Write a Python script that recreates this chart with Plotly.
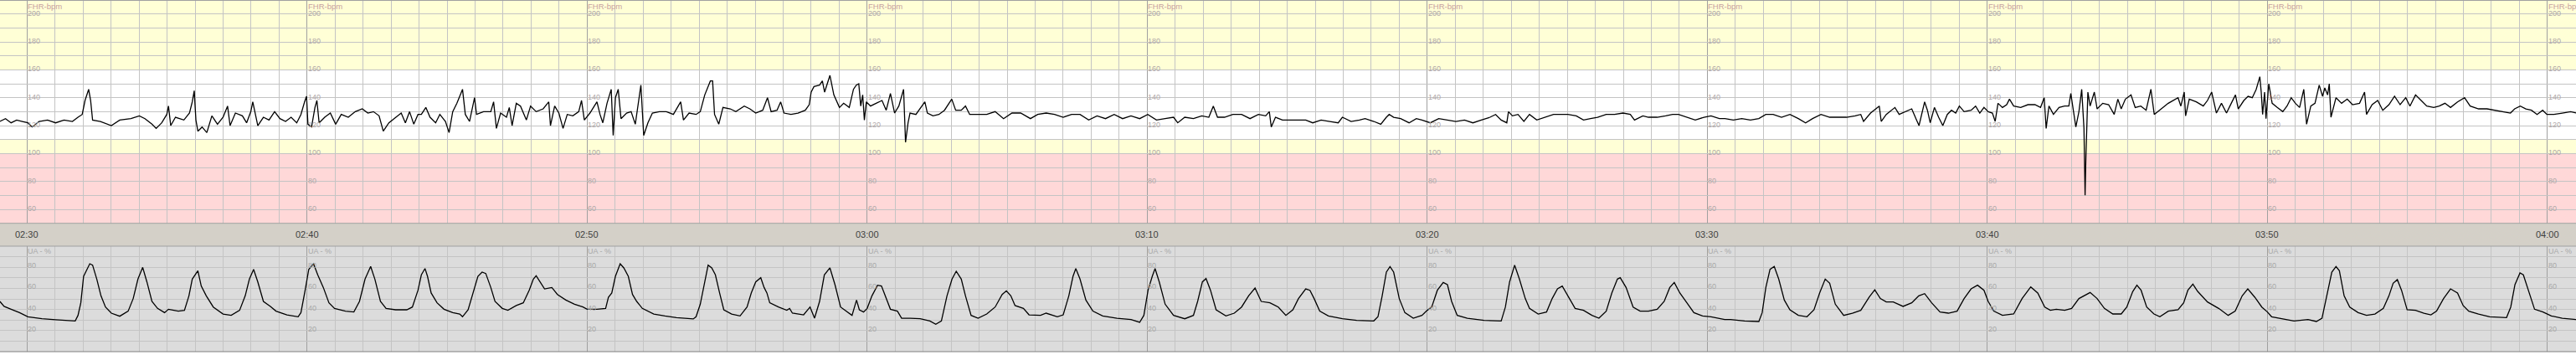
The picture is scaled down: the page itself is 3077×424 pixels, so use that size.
import plotly.graph_objects as go

# ---------------- data (minutes after 02:30, value) ----------------
fhr_seg1 = [(-0.97,123),(-0.77,125),(-0.57,122),(-0.37,124),(-0.17,123),(0.03,122),(0.18,119),(0.43,123),(0.73,124),(1.02,122),(1.32,124),(1.62,123),(1.82,126),(1.97,128),(2.07,138),(2.20,146),(2.27,138),(2.34,124),(2.62,123),(3.01,120),(3.31,124),(3.71,125),(4.01,127),(4.21,125),(4.46,121),(4.61,118),(4.81,122),(4.99,128),(5.05,134),(5.13,120),(5.30,126),(5.60,124),(5.80,129),(5.90,137),(5.97,145),(6.03,124),(6.10,116),(6.25,119),(6.42,115),(6.60,127),(6.80,121),(7.00,126),(7.16,134),(7.25,120),(7.44,129),(7.69,127),(7.84,122),(7.99,130),(8.06,137),(8.14,129),(8.24,120),(8.44,126),(8.64,124),(8.84,130),(9.03,125),(9.23,123),(9.43,126),(9.63,122),(9.78,128),(9.91,137),(9.98,141),(10.03,121),(10.16,119),(10.28,133),(10.35,138),(10.43,122),(10.63,126),(10.83,129),(11.02,121),(11.22,128),(11.47,126),(11.72,130),(11.97,132),(12.17,129),(12.37,130),(12.57,127),(12.72,116),(12.92,122),(13.16,126),(13.36,129),(13.51,122),(13.66,130),(13.81,121),(13.96,128)]
fhr_seg2 = [(14.08,128),(14.24,133),(14.39,126),(14.59,122),(14.74,128),(14.94,123),(15.07,115),(15.20,130),(15.35,136),(15.55,146),(15.65,128),(15.80,123),(15.98,140),(16.05,128),(16.30,130),(16.56,130),(16.66,137),(16.76,118),(16.91,129),(17.12,126),(17.22,133),(17.32,120),(17.47,136),(17.62,134),(17.83,124),(17.98,134),(18.18,130),(18.43,132),(18.63,137),(18.69,120),(18.84,134),(18.99,129),(19.14,118),(19.29,128),(19.49,127),(19.70,130),(19.80,138),(19.90,124),(20.10,129),(20.25,134),(20.35,137),(20.46,128),(20.56,122),(20.71,136),(20.86,146),(20.93,113),(21.01,140),(21.11,146),(21.21,125),(21.41,129),(21.57,130),(21.72,121),(21.92,149),(22.02,113),(22.17,122),(22.33,129),(22.58,130),(22.83,130),(23.08,128),(23.34,137),(23.44,124),(23.64,129),(23.89,128),(24.04,130),(24.20,142),(24.40,152),(24.48,152),(24.55,128),(24.70,121),(24.85,133),(25.11,132),(25.31,130),(25.61,134),(25.81,132),(26.02,129),(26.27,131),(26.44,140),(26.57,130),(26.78,131),(26.91,137),(27.03,129),(27.28,128),(27.53,129),(27.79,131),(27.93,135),(28.00,144),(28.10,148),(28.30,149),(28.40,152),(28.48,144),(28.58,150),(28.67,156),(28.81,142),(29.01,133),(29.16,136),(29.36,133)]
fhr_seg3 = [(29.51,146),(29.61,149),(29.70,150),(29.77,134),(29.84,142),(29.90,124),(29.97,137),(30.12,134),(30.32,136),(30.53,138),(30.68,131),(30.83,143),(30.98,129),(31.13,134),(31.30,146),(31.37,108),(31.46,122),(31.53,129),(31.74,128),(31.94,134),(32.06,137),(32.15,129),(32.35,127),(32.56,128),(32.76,131),(33.02,139),(33.16,131),(33.36,131),(33.51,134),(33.66,128),(33.96,128),(34.27,128),(34.57,130),(34.87,125),(35.17,129),(35.48,129),(35.83,125),(36.09,128),(36.39,129),(36.69,128),(37.00,126),(37.30,128),(37.60,128),(37.91,124),(38.21,127),(38.51,125),(38.82,128),(39.12,125),(39.42,127),(39.73,125),(40.02,128),(40.33,124),(40.64,125),(40.94,126),(41.09,122),(41.34,126),(41.65,125),(41.95,127),(42.20,126),(42.36,134),(42.51,126),(42.76,126),(43.06,128),(43.37,128),(43.67,125),(43.97,128),(44.23,127),(44.36,130),(44.43,119),(44.58,126),(44.83,124)]
fhr_seg4 = [(45.06,124),(45.35,124),(45.66,124),(45.91,122),(46.21,124),(46.52,123),(46.82,122),(46.97,126),(47.28,123),(47.58,124),(47.78,125),(48.09,123),(48.34,121),(48.54,126),(48.64,128),(48.80,126),(49.05,125),(49.35,122),(49.61,125),(49.81,124),(50.11,122),(50.41,125),(50.72,124),(51.02,123),(51.33,124),(51.63,122),(51.93,124),(52.24,126),(52.44,128),(52.64,124),(52.84,122),(52.90,130),(53.04,127),(53.24,128),(53.45,123),(53.65,128),(53.91,124),(54.21,126),(54.51,128),(54.77,128),(55.02,128),(55.32,127),(55.58,124),(55.83,125),(56.08,126),(56.39,128),(56.69,128),(56.99,129),(57.25,128),(57.40,124),(57.70,127),(57.90,126),(58.21,126),(58.51,127),(58.76,128),(58.97,128),(59.27,126),(59.57,124),(59.88,126),(60.13,127),(60.43,125)]
fhr_seg5 = [(60.63,125),(60.93,124),(61.23,125),(61.54,124),(61.84,125),(62.09,128),(62.35,128),(62.65,126),(62.95,128),(63.25,125),(63.51,122),(63.76,125),(64.06,128),(64.37,126),(64.67,126),(64.97,126),(65.28,127),(65.48,128),(65.58,123),(65.83,129),(66.14,134),(66.21,123),(66.39,128),(66.70,133),(66.85,128),(67.05,130),(67.30,132),(67.45,125),(67.56,120),(67.76,137),(67.86,131),(67.96,122),(68.11,133),(68.26,126),(68.41,120),(68.57,128),(68.72,131),(68.87,129),(69.00,134),(69.17,130),(69.42,131),(69.58,134),(69.73,129),(69.88,133),(70.03,130),(70.18,129),(70.28,123),(70.38,136),(70.54,133),(70.69,135),(70.79,139),(70.94,134),(71.19,133),(71.45,135),(71.70,135),(71.90,133),(72.03,140),(72.10,118),(72.20,134),(72.36,128),(72.56,133),(72.76,134),(72.91,134),(72.98,143),(73.08,130),(73.16,119),(73.27,130),(73.37,146),(73.45,118),(73.47,80),(73.49,70),(73.52,98),(73.59,144),(73.67,134),(73.82,144),(73.92,132),(74.12,136),(74.33,135),(74.53,128),(74.66,139),(74.78,132),(74.93,139),(75.13,142),(75.28,133),(75.48,134),(75.67,131),(75.84,146)]
fhr_seg6 = [(75.96,128),(76.16,131),(76.46,136),(76.81,140),(76.91,134),(77.03,144),(77.08,127),(77.21,139),(77.46,137),(77.71,134),(77.86,138),(78.01,144),(78.18,129),(78.36,136),(78.54,129),(78.71,136),(78.86,142),(78.96,132),(79.16,138),(79.31,141),(79.46,140),(79.60,146),(79.73,155),(79.78,144),(79.83,128),(79.90,144),(79.95,125),(80.05,150),(80.17,136),(80.35,133),(80.55,130),(80.70,134),(80.85,140),(81.00,136),(81.15,133),(81.30,146),(81.40,121),(81.55,134),(81.70,136),(81.85,149),(81.97,141),(82.05,147),(82.15,142),(82.21,150),(82.27,126),(82.45,140),(82.65,136),(82.85,139),(83.04,135),(83.29,136),(83.47,144),(83.54,128),(83.74,135),(83.94,138),(84.12,131),(84.34,135),(84.54,141),(84.74,135),(84.94,140),(85.09,134),(85.29,142),(85.49,138),(85.69,134),(85.94,133),(86.14,134),(86.34,136),(86.54,133),(86.79,137),(87.04,140),(87.24,134),(87.54,132),(87.84,132),(88.14,131),(88.44,130),(88.68,129),(88.83,132),(89.03,134),(89.23,132),(89.43,131),(89.63,128),(89.83,131),(89.98,128),(90.23,128),(90.53,129),(90.83,130),(91.04,129)]

ua_seg1 = [(-0.97,47.6),(-0.82,42.9),(-0.57,40.2),(-0.27,37.0),(0.03,33.1),(0.53,31.2),(1.02,30.2),(1.72,29.1),(1.82,34.4),(1.92,46.3),(2.02,71.4),(2.14,78.0),(2.24,83.3),(2.34,82.0),(2.49,68.8),(2.64,52.9),(2.80,42.3),(3.01,36.5),(3.31,33.6),(3.61,38.4),(3.79,50.3),(3.96,68.8),(4.13,79.9),(4.28,66.1),(4.46,47.6),(4.66,41.0),(4.91,37.0),(5.05,40.2),(5.40,38.4),(5.62,39.2),(5.78,52.9),(5.90,68.8),(6.00,72.8),(6.10,76.7),(6.22,62.2),(6.40,52.9),(6.65,42.3),(7.00,35.7),(7.29,34.4),(7.59,39.2),(7.79,52.9),(7.94,68.8),(8.09,78.0),(8.24,66.1),(8.44,47.6),(8.69,42.9),(8.89,38.4),(9.28,34.9),(9.68,33.1),(9.78,37.0),(9.93,58.2),(10.06,78.0),(10.23,83.3),(10.38,72.8),(10.58,60.8),(10.78,46.3),(10.98,41.0),(11.37,38.4),(11.67,37.6),(11.87,47.6),(12.07,68.8),(12.27,80.7),(12.42,68.8),(12.62,47.6),(12.82,41.0),(13.16,39.7),(13.56,39.7),(13.76,42.3),(13.96,58.2)]
ua_seg2 = [(14.08,72.8),(14.21,78.8),(14.30,71.4),(14.43,55.6),(14.64,46.3),(14.89,40.2),(15.20,37.0),(15.45,35.7),(15.55,33.1),(15.75,39.7),(15.90,52.9),(16.10,71.4),(16.25,75.4),(16.38,74.1),(16.56,60.8),(16.71,47.6),(16.97,41.0),(17.17,39.2),(17.47,43.7),(17.72,46.3),(17.93,58.2),(18.08,68.8),(18.18,72.0),(18.33,66.1),(18.48,59.5),(18.74,60.8),(18.94,54.2),(19.24,48.9),(19.55,45.0),(19.85,42.3),(20.00,40.2),(20.35,40.2),(20.66,41.0),(20.76,51.6),(20.88,55.6),(21.01,71.4),(21.18,83.3),(21.31,79.4),(21.47,71.4),(21.62,54.2),(21.77,47.6),(21.97,41.0),(22.38,35.7),(22.78,33.9),(23.19,32.3),(23.79,31.0),(23.89,33.1),(24.04,45.0),(24.20,66.1),(24.32,82.0),(24.45,79.4),(24.58,72.8),(24.73,55.6),(24.88,39.7),(25.16,35.7),(25.46,33.9),(25.71,42.3),(25.86,55.6),(26.02,66.1),(26.20,70.1),(26.32,60.8),(26.42,55.6),(26.52,46.3),(26.83,42.3),(27.13,39.2),(27.23,41.0),(27.33,36.5),(27.73,34.9),(27.96,42.3),(28.12,31.7),(28.30,47.6),(28.47,72.8),(28.67,79.4),(28.85,63.5),(29.05,42.3),(29.31,37.0)]
ua_seg3 = [(29.46,34.4),(29.62,48.9),(29.72,39.7),(29.87,37.6),(30.00,41.0),(30.17,52.9),(30.37,63.0),(30.51,62.2),(30.68,50.3),(30.83,40.2),(31.08,38.4),(31.23,31.7),(31.54,31.7),(31.89,31.2),(32.24,29.1),(32.45,25.9),(32.65,29.1),(32.85,52.9),(33.03,68.8),(33.18,76.2),(33.36,68.8),(33.51,52.9),(33.71,34.4),(33.96,31.7),(34.27,35.7),(34.57,42.3),(34.82,54.2),(34.97,57.7),(35.13,52.9),(35.28,43.7),(35.58,41.0),(35.78,34.9),(36.19,34.4),(36.39,36.5),(36.79,33.1),(37.00,34.9),(37.20,52.9),(37.35,71.4),(37.45,78.8),(37.60,68.8),(37.81,48.9),(38.06,38.4),(38.41,33.9),(38.92,31.7),(39.42,30.4),(39.73,27.8),(39.88,34.4),(40.03,58.2),(40.18,71.4),(40.28,78.8),(40.43,66.1),(40.64,45.0),(40.94,34.4),(41.34,31.2),(41.65,34.4),(41.80,47.6),(41.97,66.1),(42.10,69.3),(42.26,58.2),(42.46,39.7),(42.81,33.9),(43.11,36.5),(43.37,42.3),(43.62,52.9),(43.85,60.3),(44.07,47.6),(44.38,46.3),(44.68,42.3)]
ua_seg4 = [(44.95,34.4),(45.20,39.7),(45.40,50.3),(45.66,59.5),(45.81,58.2),(45.96,50.3),(46.16,38.4),(46.47,33.9),(46.97,31.2),(47.48,29.6),(48.09,29.1),(48.24,33.1),(48.39,52.9),(48.54,75.4),(48.67,80.7),(48.80,75.4),(49.00,50.3),(49.20,37.0),(49.50,31.7),(49.81,34.4),(50.00,39.2),(50.16,42.3),(50.36,58.2),(50.57,65.6),(50.72,63.5),(50.87,47.6),(51.07,34.4),(51.43,31.7),(52.03,29.6),(52.64,29.1),(52.79,42.3),(52.94,66.1),(53.12,82.0),(53.29,68.8),(53.50,50.3),(53.65,41.0),(53.96,35.7),(54.26,37.6),(54.46,50.3),(54.65,59.5),(54.82,62.2),(55.02,52.9),(55.28,41.0),(55.58,39.2),(55.88,34.4),(56.13,31.7),(56.39,38.4),(56.59,55.6),(56.79,68.8),(56.89,70.1),(57.10,60.8),(57.35,42.3),(57.60,38.4),(57.90,38.4),(58.21,40.2),(58.46,47.6),(58.66,60.8),(58.82,65.6),(59.02,55.6),(59.27,46.3),(59.52,37.0),(59.83,33.9),(60.13,33.1),(60.62,30.4)]
ua_seg5 = [(60.83,30.4),(61.33,29.1),(61.84,28.6),(61.96,37.0),(62.09,60.8),(62.24,78.0),(62.39,80.7),(62.55,68.8),(62.75,48.9),(62.95,39.7),(63.25,34.4),(63.56,33.1),(63.81,39.7),(64.01,55.6),(64.21,68.8),(64.37,64.8),(64.57,45.0),(64.87,34.4),(65.18,36.5),(65.48,39.2),(65.78,51.6),(65.98,58.7),(66.18,50.3),(66.39,47.1),(66.64,47.1),(66.99,42.9),(67.30,46.3),(67.55,52.9),(67.76,55.0),(68.01,46.3),(68.31,37.6),(68.61,36.5),(68.92,38.4),(69.17,50.3),(69.42,59.5),(69.65,63.0),(69.88,58.2),(70.03,47.6),(70.23,38.4),(70.54,34.4),(70.94,35.7),(71.24,50.3),(71.55,61.4),(71.80,55.6),(72.05,42.3),(72.25,39.2),(72.46,40.2),(72.76,39.2),(73.01,41.0),(73.27,50.3),(73.67,56.1),(73.92,50.3),(74.18,41.0),(74.48,35.7),(74.78,35.7),(74.98,42.3),(75.19,56.9),(75.34,63.0),(75.49,58.2),(75.69,42.3),(75.95,35.7)]
ua_seg6 = [(76.16,33.1),(76.46,38.4),(76.81,39.7),(77.01,46.3),(77.16,58.2),(77.34,64.0),(77.51,57.1),(77.86,47.1),(78.26,41.0),(78.60,34.4),(78.85,38.4),(79.10,52.9),(79.30,59.5),(79.55,51.6),(79.80,42.3),(80.00,37.6),(80.15,33.1),(80.55,31.2),(80.95,29.1),(81.45,30.4),(81.75,28.6),(81.95,31.7),(82.15,58.2),(82.30,75.4),(82.45,80.7),(82.57,76.7),(82.74,52.9),(82.94,42.3),(83.24,37.0),(83.54,34.4),(83.84,35.7),(84.14,41.0),(84.34,52.9),(84.49,64.8),(84.64,68.3),(84.79,58.2),(84.99,39.7),(85.29,39.2),(85.59,36.5),(85.84,34.9),(86.04,38.4),(86.29,50.3),(86.54,59.5),(86.79,55.6),(86.99,43.7),(87.19,38.4),(87.54,35.7),(87.94,33.1),(88.54,32.3),(88.69,42.3),(88.84,63.5),(89.02,74.6),(89.14,72.8),(89.34,55.6),(89.54,40.2),(89.84,37.6),(90.14,33.9),(90.53,31.7),(91.04,30.4)]

major_minutes = [0, 10, 20, 30, 40, 50, 60, 70, 80, 90]
time_labels = ["02:30", "02:40", "02:50", "03:00", "03:10", "03:20", "03:30", "03:40", "03:50", "04:00"]
fhr_tick_values = [200, 180, 160, 140, 120, 100, 80, 60]
ua_tick_values = [80, 60, 40, 20]

# ---------------- geometry ----------------
W, H = 3077, 424
X_RANGE = [-0.966, 91.02]
FHR_RANGE = [50, 210]
UA_RANGE = [0, 100]

def py(px):
    return 1 - px / H

top_dom = [py(266.7), 1.0]
bot_dom = [py(420), py(294)]

fhr = fhr_seg1 + fhr_seg2 + fhr_seg3 + fhr_seg4 + fhr_seg5 + fhr_seg6
ua = ua_seg1 + ua_seg2 + ua_seg3 + ua_seg4 + ua_seg5 + ua_seg6

fig = go.Figure()
fig.add_trace(go.Scatter(x=[p[0] for p in fhr], y=[p[1] for p in fhr], mode="lines",
                         line=dict(color="#000000", width=1.3), xaxis="x", yaxis="y",
                         hoverinfo="skip", showlegend=False))
fig.add_trace(go.Scatter(x=[p[0] for p in ua], y=[p[1] for p in ua], mode="lines",
                         line=dict(color="#000000", width=1.3), xaxis="x", yaxis="y2",
                         hoverinfo="skip", showlegend=False))

shapes = []
# FHR zone backgrounds
for y0, y1, col in [(160, 210, "#ffffd6"), (110, 160, "#ffffff"), (100, 110, "#ffffd6"), (50, 100, "#ffd8d8")]:
    shapes.append(dict(type="rect", xref="paper", yref="y", x0=0, x1=1, y0=y0, y1=y1,
                       fillcolor=col, line=dict(width=0), layer="below"))
# UA background
shapes.append(dict(type="rect", xref="paper", yref="y2", x0=0, x1=1, y0=0, y1=100,
                   fillcolor="#dcdcdc", line=dict(width=0), layer="below"))
# time band
shapes.append(dict(type="rect", xref="paper", yref="paper", x0=0, x1=1, y0=py(294), y1=py(266.7),
                   fillcolor="#d4d0c8", line=dict(width=0), layer="above"))
# borders
for ypx, col in [(0.5, "#a0a0a0"), (266.7, "#a0a0a0"), (294, "#a0a0a0"), (420, "#808080")]:
    shapes.append(dict(type="line", xref="paper", yref="paper", x0=0, x1=1, y0=py(ypx), y1=py(ypx),
                       line=dict(color=col, width=1), layer="above"))

annotations = []
FONT = "Liberation Sans, Arial, sans-serif"
for m, lab in zip(major_minutes, time_labels):
    annotations.append(dict(x=m, xref="x", y=py(280), yref="paper", text=lab, showarrow=False,
                            xanchor="center", yanchor="middle",
                            font=dict(family=FONT, size=11, color="#404040")))
    annotations.append(dict(x=m, xref="x", y=py(7.5), yref="paper", text="FHR-bpm", showarrow=False,
                            xanchor="left", yanchor="middle", xshift=-1,
                            font=dict(family=FONT, size=9.5, color="#c8a0a0")))
    for v in fhr_tick_values:
        annotations.append(dict(x=m, xref="x", y=v, yref="y", text=str(v), showarrow=False,
                                xanchor="left", yanchor="middle", xshift=-1, yshift=1,
                                font=dict(family=FONT, size=9, color="#b0a8a8")))
    annotations.append(dict(x=m, xref="x", y=py(300), yref="paper", text="UA - %", showarrow=False,
                            xanchor="left", yanchor="middle", xshift=-1,
                            font=dict(family=FONT, size=9, color="#a8a8a8")))
    for v in ua_tick_values:
        annotations.append(dict(x=m, xref="x", y=v, yref="y2", text=str(v), showarrow=False,
                                xanchor="left", yanchor="middle", xshift=-1, yshift=2,
                                font=dict(family=FONT, size=9, color="#a8a8a8")))

fig.update_layout(
    width=W, height=H, margin=dict(l=0, r=0, t=0, b=0),
    paper_bgcolor="#ffffff", plot_bgcolor="#ffffff",
    showlegend=False,
    xaxis=dict(range=X_RANGE, domain=[0, 1], anchor="y", showticklabels=False, ticks="",
               zeroline=False, showline=False, tick0=0, dtick=10, showgrid=True,
               gridcolor="#a0a0a0", gridwidth=1,
               minor=dict(tick0=0, dtick=1, showgrid=True, gridcolor="#c4c4c4", gridwidth=1)),
    yaxis=dict(range=FHR_RANGE, domain=top_dom, anchor="x", showticklabels=False, ticks="",
               zeroline=False, showline=False, tick0=50, dtick=10, showgrid=True,
               gridcolor="#c4c4c4", gridwidth=1),
    yaxis2=dict(range=UA_RANGE, domain=bot_dom, anchor="x", showticklabels=False, ticks="",
                zeroline=False, showline=False, tick0=0, dtick=10, showgrid=True,
                gridcolor="#c4c4c4", gridwidth=1),
    shapes=shapes, annotations=annotations,
)

fig.write_html("out.html", config={"displayModeBar": False},
               post_script="document.body.style.margin='0px';document.body.style.overflow='hidden';")
